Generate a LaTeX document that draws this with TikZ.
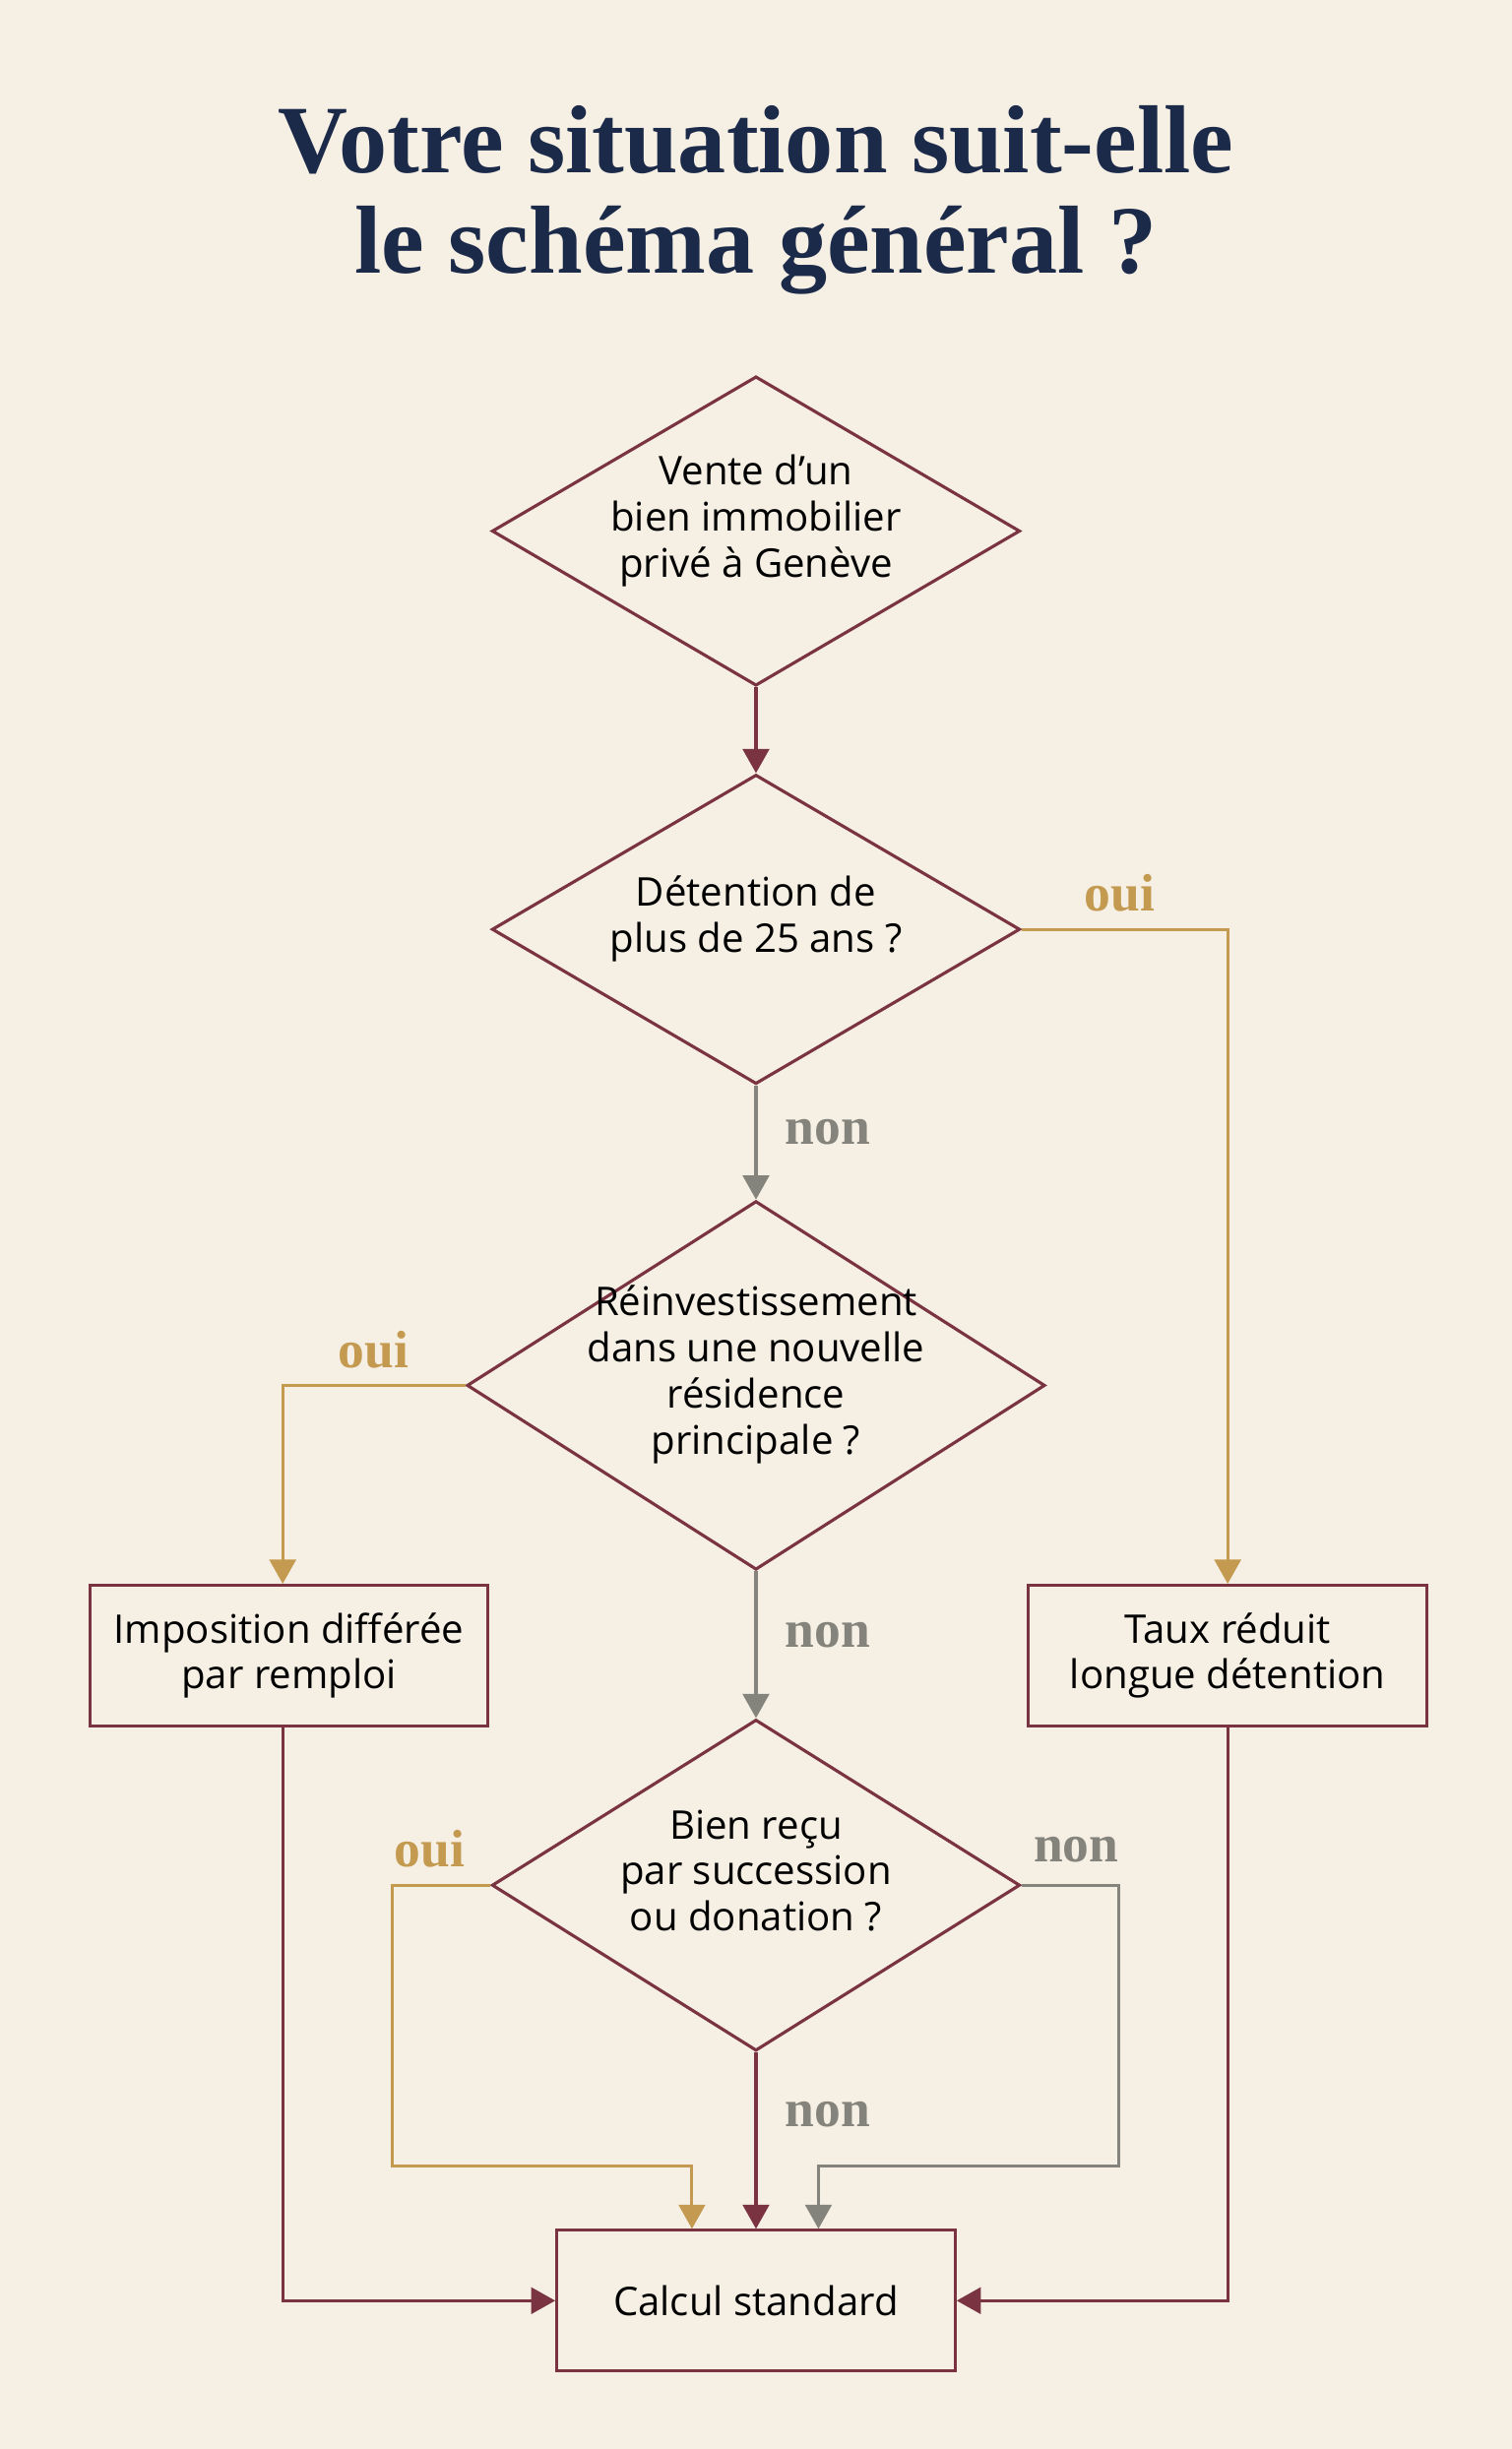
\documentclass[tikz,border=0pt]{standalone}
\usepackage{fontspec}
\setmainfont{Open Sans}
\newfontfamily\titlefont{Liberation Serif}
\usetikzlibrary{positioning,shapes.geometric,arrows.meta}
\definecolor{bgcream}{HTML}{F5EFE4}
\definecolor{wine}{HTML}{7A3340}
\definecolor{ochre}{HTML}{C49A50}
\definecolor{slate}{HTML}{85847C}
\definecolor{navy}{HTML}{1C2A4A}
% text that does not widen the diamond
\newcommand\flattext[1]{\makebox[0pt]{\smash{\begin{tabular}{@{}c@{}}#1\end{tabular}}}}
\begin{document}
\begin{tikzpicture}[x = 0.025cm, y = -0.025cm, line width = 1.4pt,
                    >={Triangle[length = 11pt, width = 12pt]},
                    test/.style  = {diamond,
                                    draw = wine,
                                    fill = bgcream,
                                    inner sep = 0pt,
                                    text = black,
                                    font = \fontsize{18}{21}\selectfont},
                    result/.style = {rectangle,
                                    draw = wine,
                                    align = center,
                                    text = black,
                                    minimum width = 6.375cm,
                                    minimum height = 2.25cm,
                                    font = \fontsize{18}{21}\selectfont},
                    tag/.style   = {font = \titlefont\bfseries\fontsize{24}{24}\selectfont},
                    yes/.style   = {draw = ochre, ->},
                    no/.style    = {draw = slate, ->},
                    flow/.style  = {draw = wine, ->}]

\fill[bgcream] (0,0) rectangle (968,1568);
\useasboundingbox (0,0) rectangle (968,1568);

\node[navy, align = center, font = \titlefont\bfseries\fontsize{44}{46}\selectfont]
     (title) at (484,128) {Votre situation suit-elle\\le schéma général ?};

\node[test, minimum width = 8.45cm, minimum height = 4.95cm] (sale) at (484,340)
     {\flattext{Vente d’un\\bien immobilier\\privé à Genève}};
\node[test, minimum width = 8.45cm, minimum height = 4.95cm] (hold) at (484,595)
     {\flattext{Détention de\\plus de 25 ans ?}};
\node[test, minimum width = 9.25cm, minimum height = 5.9cm] (reinv) at (484,887)
     {\flattext{Réinvestissement\\dans une nouvelle\\résidence\\principale ?}};
\node[test, minimum width = 8.45cm, minimum height = 5.3cm] (gift) at (484,1207)
     {\flattext{Bien reçu\\par succession\\ou donation ?}};

\node[result] (defer) at (185,1060) {Imposition différée\\par remploi};
\node[result] (rate) at (786,1060) {Taux réduit\\longue détention};
\node[result] (std) at (484,1473) {Calcul standard};

\coordinate (hold-r) at (786,595);
\coordinate (reinv-l) at (181,887);
\coordinate (gift-l1) at (251,1207);
\coordinate (gift-l2) at (251,1387);
\coordinate (gift-l3) at (443,1387);
\coordinate (gift-r1) at (716,1207);
\coordinate (gift-r2) at (716,1387);
\coordinate (gift-r3) at (524,1387);
\coordinate (defer-b) at (181,1473);
\coordinate (rate-b) at (786,1473);

\draw[flow] (sale) -- (hold);
\draw[yes] (hold.east) -- (hold-r) -- (rate.north);
\draw[no] (hold) -- (reinv);
\draw[yes] (reinv.west) -- (reinv-l) -- (reinv-l |- defer.north);
\draw[no] (reinv) -- (gift);
\draw[yes] (gift.west) -- (gift-l1) -- (gift-l2) -- (gift-l3) -- (gift-l3 |- std.north);
\draw[no] (gift.east) -- (gift-r1) -- (gift-r2) -- (gift-r3) -- (gift-r3 |- std.north);
\draw[flow] (gift) -- (std);
\draw[flow] (defer-b |- defer.south) -- (defer-b) -- (std.west);
\draw[flow] (rate.south) -- (rate-b) -- (std.east);

\node[tag, ochre] (oui1) at (717,572) {oui};
\node[tag, slate] (non1) at (530,725) {non};
\node[tag, ochre] (oui2) at (239,864) {oui};
\node[tag, slate] (non2) at (530,1047) {non};
\node[tag, ochre] (oui3) at (275,1184) {oui};
\node[tag, slate] (non3) at (689,1184) {non};
\node[tag, slate] (non4) at (530,1354) {non};

\end{tikzpicture}
\end{document}
